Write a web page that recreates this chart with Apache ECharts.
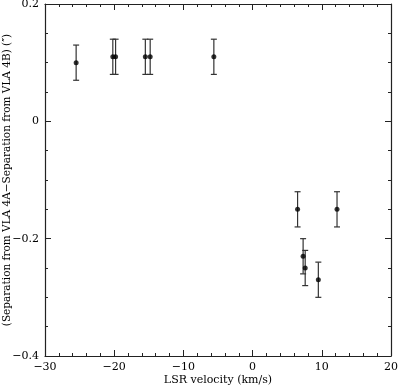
<!DOCTYPE html>
<html><head><meta charset="utf-8">
<script src="https://cdn.jsdelivr.net/npm/echarts@6/dist/echarts.min.js"></script>
<style>html,body{margin:0;padding:0;background:#fff}#c{width:398px;height:387px}</style>
</head><body><div id="c"></div>
<script>
const velocity   = [-25.5, -20.2, -19.8, -15.5, -14.8, -5.6, 6.5, 12.2, 7.3, 7.6, 9.5];
const separation = [0.10, 0.11, 0.11, 0.11, 0.11, 0.11, -0.15, -0.15, -0.23, -0.25, -0.27];
const sepError   = [0.03, 0.03, 0.03, 0.03, 0.03, 0.03, 0.03, 0.03, 0.03, 0.03, 0.03];
const xTitle = 'LSR velocity (km/s)';
const yTitle = '(Separation from VLA 4A\u2212Separation from VLA 4B) (\u2033)';

const font = 'DejaVu Serif';
const chart = echarts.init(document.getElementById('c'), null, {renderer: 'canvas'});
const pts = velocity.map((v, i) => [v, separation[i]]);
const errs = velocity.map((v, i) => [v, separation[i] - sepError[i], separation[i] + sepError[i]]);

function ax(extra, minorSplit) {
  return Object.assign({
    axisLine: {show: true, onZero: false, lineStyle: {color: '#222', width: 1.2}},
    axisTick: {show: true, inside: true, length: 6, lineStyle: {color: '#222'}},
    minorTick: {show: true, splitNumber: minorSplit, length: 3, lineStyle: {color: '#222'}},
    splitLine: {show: false}
  }, extra);
}
chart.setOption({
  animation: false,
  grid: {left: 45, right: 7, top: 4, bottom: 31, containLabel: false, outerBoundsMode: 'none'},
  xAxis: [
    ax({type: 'value', min: -30, max: 20, interval: 10, position: 'bottom',
      name: xTitle, nameLocation: 'middle', nameGap: 19, nameMoveOverlap: false,
      nameTextStyle: {fontFamily: font, fontSize: 11, color: '#000', verticalAlign: 'top'},
      axisLabel: {fontFamily: font, fontSize: 11, color: '#000', margin: 6,
        formatter: v => String(v).replace('-', '\u2212')}}, 5),
    ax({type: 'value', min: -30, max: 20, interval: 10, position: 'top',
      axisLabel: {show: false}}, 5)
  ],
  yAxis: [
    ax({type: 'value', min: -0.4, max: 0.2, interval: 0.2, position: 'left',
      name: yTitle, nameLocation: 'middle', nameGap: 32, nameMoveOverlap: false,
      nameTextStyle: {fontFamily: font, fontSize: 10.5, color: '#000'},
      axisLabel: {fontFamily: font, fontSize: 11, color: '#000', margin: 6,
        formatter: v => (Math.abs(v) < 1e-9 ? '0' : String(+v.toFixed(1)).replace('-', '\u2212'))}}, 4),
    ax({type: 'value', min: -0.4, max: 0.2, interval: 0.2, position: 'right',
      axisLabel: {show: false}}, 4)
  ],
  series: [
    {
      type: 'custom', xAxisIndex: 0, yAxisIndex: 0, data: errs,
      renderItem: function (params, api) {
        const lo = api.coord([api.value(0), api.value(1)]);
        const hi = api.coord([api.value(0), api.value(2)]);
        const w = 3;
        const st = {stroke: '#333', lineWidth: 1.2};
        return {type: 'group', children: [
          {type: 'line', shape: {x1: lo[0], y1: lo[1], x2: hi[0], y2: hi[1]}, style: st},
          {type: 'line', shape: {x1: lo[0] - w, y1: lo[1], x2: lo[0] + w, y2: lo[1]}, style: st},
          {type: 'line', shape: {x1: hi[0] - w, y1: hi[1], x2: hi[0] + w, y2: hi[1]}, style: st}
        ]};
      },
      z: 2
    },
    {type: 'scatter', xAxisIndex: 0, yAxisIndex: 0, data: pts, symbol: 'circle', symbolSize: 5,
      itemStyle: {color: '#000'}, z: 3}
  ]
});
</script></body></html>
